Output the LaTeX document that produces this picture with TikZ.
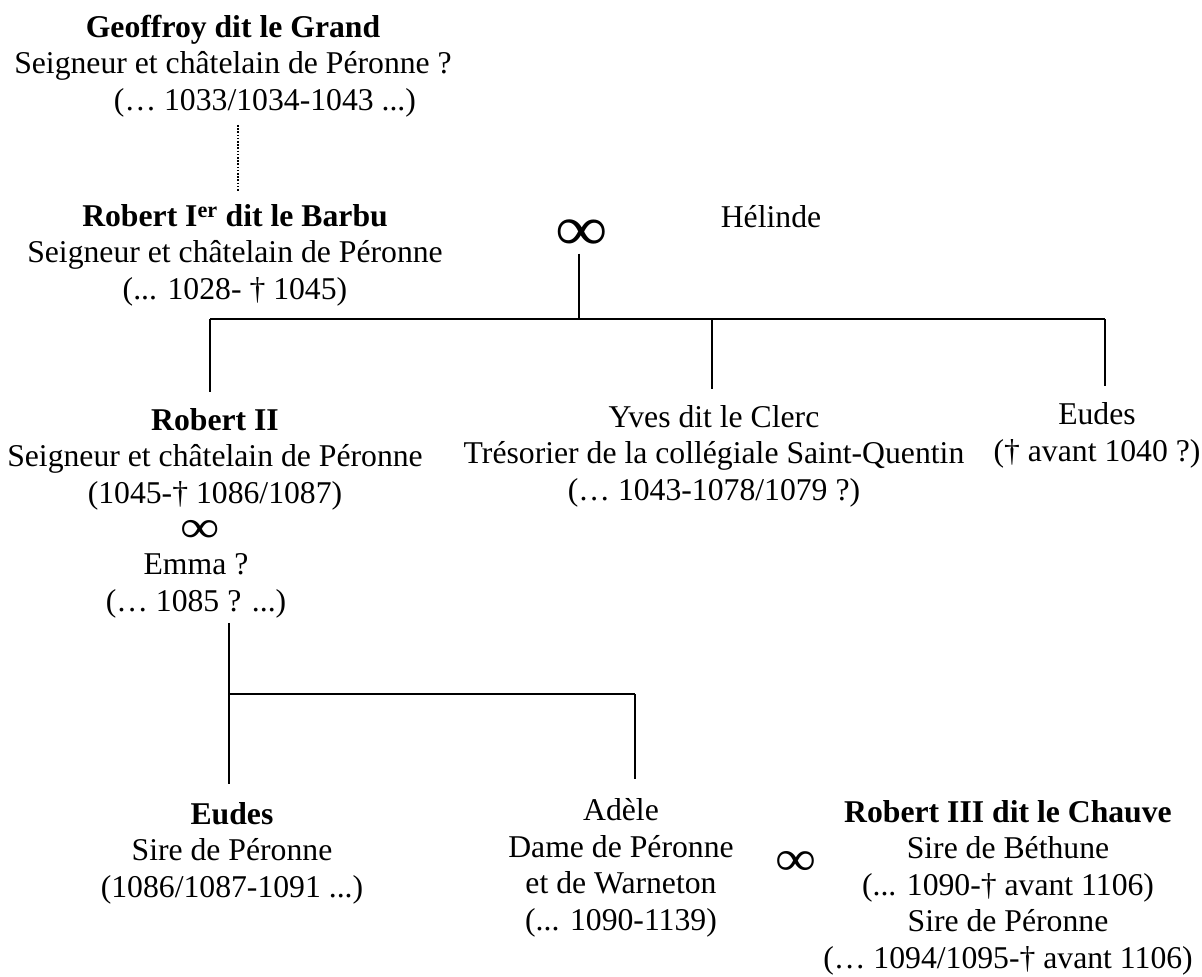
\documentclass[tikz,border=0pt]{standalone}
\usepackage{graphicx}
\usepackage{fontspec}
\setmainfont{Liberation Serif}

\tikzset{
  personne/.style={align=center, inner sep=0pt, anchor=base,
    font=\fontsize{31.7}{36.4}\selectfont},
  mariage/.style={inner sep=0pt, anchor=center, font=\fontsize{50}{50}\selectfont},
  lien/.style={line width=1.1pt},
  filiation/.style={line width=1.1pt, dash pattern=on 1.6pt off 1.6pt},
}
\newcommand{\infini}{\scalebox{1.15}[1]{∞}}

\begin{document}
\begin{tikzpicture}[x=1pt,y=-1pt]
			%%%%% START %%%%%
			\useasboundingbox (0,0) rectangle (1202,977);
			
			% (anchor base = baseline of the last line)
			\node[personne] (geoffroy) at (233,110) {\textbf{Geoffroy dit le Grand}\\Seigneur et châtelain de Péronne ?\\\makebox[64pt]{}(… 1033/1034-1043 ...)};
			\node[personne] (robertI) at (235,299) {\textbf{Robert I\textsuperscript{er} dit le Barbu}\\Seigneur et châtelain de Péronne\\(... 1028- † 1045)};
			\draw[filiation, shorten <=8pt, shorten >=13pt] ([xshift=5pt]geoffroy.south) -- ([xshift=5pt]geoffroy.south |- robertI.north);
			
			\node[mariage, font=\fontsize{64}{64}\selectfont] (mariageA) at (582,235) {\infini};
			\node[personne] (helinde) at (771,227) {Hélinde};
			
			\coordinate (b1g) at (210,319);
			\coordinate (b1d) at (1105,319);
			\draw[lien, shorten <=3pt] (mariageA.south -| 579,0) -- (579,0 |- b1g);
			\draw[lien] (b1g) -- (b1d);
			
			\node[personne] (robertII) at (215,503) {\textbf{Robert II}\\Seigneur et châtelain de Péronne\\(1045-† 1086/1087)};
			\node[personne] (yves) at (714,500) {Yves dit le Clerc\\Trésorier de la collégiale Saint-Quentin\\(… 1043-1078/1079 ?)};
			\node[personne] (eudes) at (1097,461) {Eudes\\(† avant 1040 ?)};
			\draw[lien, shorten >=16pt] (b1g) -- (b1g |- robertII.north);
			\draw[lien, shorten >=16pt] (712,0 |- b1g) -- (712,0 |- yves.north);
			\draw[lien, shorten >=16pt] (b1d) -- (b1d |- eudes.north);
			
			\node[mariage, font=\fontsize{46}{46}\selectfont] (mariageE) at (200,531) {\scalebox{1.2}[1]{∞}};
			\node[personne] (emma) at (196,611) {Emma ?\\(… 1085 ? ...)};
			
			\coordinate (b2g) at (229,694);
			\coordinate (b2d) at (635,694);
			\draw[lien, shorten <=5pt] (b2g |- emma.south) -- (b2g);
			\draw[lien] (b2g) -- (b2d);
			
			\node[personne] (eudesfils) at (232,897) {\textbf{Eudes}\\Sire de Péronne\\(1086/1087-1091 ...)};
			\node[personne] (adele) at (621,930) {Adèle\\Dame de Péronne\\et de Warneton\\(... 1090-1139)};
			\node[mariage] (mariageB) at (796,863) {\infini};
			\node[personne] (robertIII) at (1008,968) {\textbf{Robert III dit le Chauve}\\Sire de Béthune\\(... 1090-† avant 1106)\\Sire de Péronne\\(… 1094/1095-† avant 1106)};
			\draw[lien, shorten >=18pt] (b2g) -- (b2g |- eudesfils.north);
			\draw[lien, shorten >=20pt] (b2d) -- (b2d |- adele.north);
			
			%%%%% END %%%%%
\end{tikzpicture}
\end{document}
